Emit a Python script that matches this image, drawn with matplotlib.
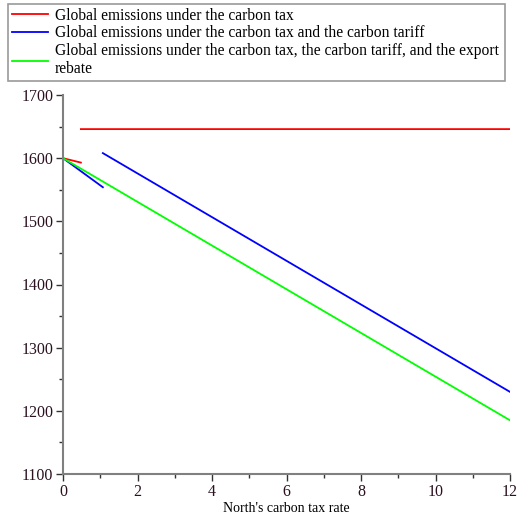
import numpy as np
import matplotlib
matplotlib.use("Agg")
import matplotlib.pyplot as plt
from matplotlib.ticker import MultipleLocator

plt.rcParams['font.family'] = ['Liberation Serif', 'DejaVu Serif']

# data (NaN breaks a series into pieces)
tax_red = [0, 0.48, np.nan, 0.48, 12]
em_red = [1600, 1593, np.nan, 1646, 1646]
tax_blue = [0, 1.07, np.nan, 1.07, 12]
em_blue = [1600, 1554, np.nan, 1608, 1230]
tax_green = [0, 12]
em_green = [1600, 1185]

labels = ["Global emissions under the carbon tax",
          "Global emissions under the carbon tax and the carbon tariff",
          "Global emissions under the carbon tax, the carbon tariff, and the export\nrebate"]

fig = plt.figure(figsize=(5.17, 5.15), dpi=100)
ax = fig.add_axes([63/517, 1-474/515, (510-63)/517, (474-95)/515])

ax.plot(tax_red, em_red, color='#ff0000', lw=1.3, label=labels[0])
ax.plot(tax_blue, em_blue, color='#0000ff', lw=1.3, label=labels[1])
ax.plot(tax_green, em_green, color='#00ff00', lw=1.3, label=labels[2])

ax.set_xlim(0, 12)
ax.set_ylim(1100, 1700)
ax.xaxis.set_major_locator(MultipleLocator(2))
ax.xaxis.set_minor_locator(MultipleLocator(1))
ax.yaxis.set_major_locator(MultipleLocator(100))
ax.yaxis.set_minor_locator(MultipleLocator(50))

for s in ['top', 'right']:
    ax.spines[s].set_visible(False)
for s in ['left', 'bottom']:
    ax.spines[s].set_color('#808080')
    ax.spines[s].set_linewidth(1.5)

ax.tick_params(which='major', length=5, width=1, color='#333333', labelsize=11.5, pad=2)
ax.tick_params(which='minor', length=3, width=1, color='#333333')
ax.tick_params(axis='both', labelcolor='#2b1020')
ax.set_xlabel("North's carbon tax rate", fontsize=10, labelpad=2)

leg = fig.legend(loc='upper left', bbox_to_anchor=(8/517, 1-80/515, 497/517, 76/515),
                 mode='expand', fontsize=11.2, fancybox=False, frameon=True,
                 handlelength=2.3, handletextpad=0.45, borderaxespad=0, labelspacing=0.1,
                 borderpad=0.25)
leg.get_frame().set_edgecolor('#808080')
leg.get_frame().set_linewidth(1.2)

fig.savefig("out.png", dpi=100)
